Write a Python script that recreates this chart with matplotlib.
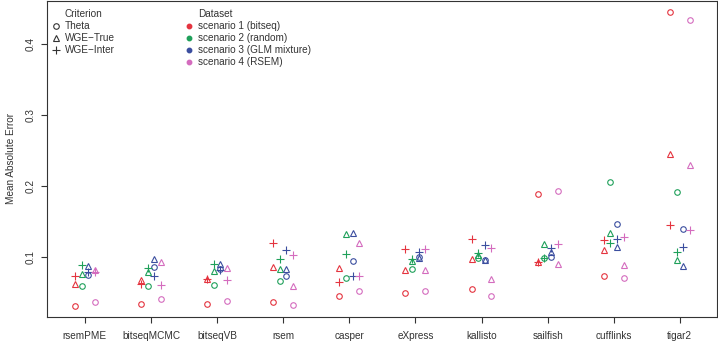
import numpy as np
import matplotlib
matplotlib.use("Agg")
import matplotlib.pyplot as plt
from matplotlib.lines import Line2D

plt.rcParams['font.family'] = ['Liberation Sans', 'DejaVu Sans']

methods = ['rsemPME', 'bitseqMCMC', 'bitseqVB', 'rsem', 'casper',
           'eXpress', 'kallisto', 'sailfish', 'cufflinks', 'tigar2']
scenarios = ['scenario 1 (bitseq)', 'scenario 2 (random)',
             'scenario 3 (GLM mixture)', 'scenario 4 (RSEM)']
criteria = ['Theta', 'WGE\u2212True', 'WGE\u2212Inter']

# rows = methods, columns = scenarios 1..4
theta = [
    [0.032, 0.059, 0.075, 0.037],
    [0.035, 0.059, 0.086, 0.041],
    [0.035, 0.061, 0.084, 0.039],
    [0.037, 0.067, 0.073, 0.033],
    [0.046, 0.071, 0.095, 0.052],
    [0.050, 0.083, 0.100, 0.052],
    [0.055, 0.099, 0.096, 0.046],
    [0.189, 0.099, 0.101, 0.193],
    [0.073, 0.206, 0.147, 0.071],
    [0.445, 0.192, 0.140, 0.434],
]
wge_true = [
    [0.063, 0.077, 0.088, 0.082],
    [0.068, 0.079, 0.098, 0.094],
    [0.069, 0.081, 0.090, 0.085],
    [0.086, 0.084, 0.084, 0.059],
    [0.085, 0.133, 0.134, 0.120],
    [0.082, 0.095, 0.099, 0.082],
    [0.097, 0.103, 0.096, 0.069],
    [0.094, 0.119, 0.108, 0.090],
    [0.110, 0.134, 0.115, 0.089],
    [0.246, 0.096, 0.088, 0.230],
]
wge_inter = [
    [0.074, 0.089, 0.079, 0.080],
    [0.063, 0.085, 0.073, 0.061],
    [0.069, 0.090, 0.082, 0.068],
    [0.120, 0.098, 0.110, 0.103],
    [0.065, 0.104, 0.073, 0.073],
    [0.112, 0.098, 0.108, 0.112],
    [0.126, 0.106, 0.118, 0.113],
    [0.094, 0.099, 0.113, 0.119],
    [0.125, 0.120, 0.126, 0.128],
    [0.146, 0.107, 0.115, 0.139],
]

colors = ['#E4343F', '#1FA05A', '#3B4E9F', '#D46CBE']
offsets = [-0.15, -0.05, 0.05, 0.15]
markers = [('o', 4.0), ('^', 5.0), ('+', 6.0)]
text_color = '#333333'

fig = plt.figure(figsize=(7.18, 3.42), dpi=100)
ax = fig.add_axes([0.0648, 0.0722, 0.9345, 0.9263])

x = np.arange(1, len(methods) + 1)
for (mk, ms), values in zip(markers, [theta, wge_true, wge_inter]):
    values = np.array(values)
    for j, col in enumerate(colors):
        ax.plot(x + offsets[j], values[:, j], linestyle='none', marker=mk,
                markersize=ms, markerfacecolor='none', markeredgecolor=col,
                markeredgewidth=0.8)

ax.set_xlim(0.42, 10.57)
ax.set_ylim(0.0156, 0.4612)
ax.set_xticks(x)
ax.set_xticklabels(methods)
ax.set_yticks([0.1, 0.2, 0.3, 0.4])
ax.set_yticklabels(['0.1', '0.2', '0.3', '0.4'], rotation=90, va='center')
ax.tick_params(axis='both', length=4.5, width=0.8, color=text_color,
               labelsize=7.2, labelcolor=text_color)
ax.tick_params(axis='x', pad=5)
ax.tick_params(axis='y', pad=3)
for sp in ax.spines.values():
    sp.set_linewidth(0.8)
    sp.set_color(text_color)

ax.set_ylabel('Mean Absolute Error', fontsize=7.2, color=text_color)
ax.yaxis.set_label_coords(-0.045, 0.5)


def add_legend(handles, labels, title, x0):
    # legend without built-in title; title drawn above the label column
    leg = ax.legend(handles, labels, loc='upper left',
                    bbox_to_anchor=(x0, 0.95), frameon=False, fontsize=7.2,
                    handlelength=0.8, handletextpad=0.5, labelspacing=0.2,
                    borderpad=0, labelcolor=text_color)
    ax.add_artist(leg)
    ax.legend_ = None
    fig.canvas.draw()
    bb = leg.get_texts()[0].get_window_extent()
    xt, _ = ax.transAxes.inverted().transform((bb.x0, bb.y1))
    ax.text(xt, 0.958, title, transform=ax.transAxes, fontsize=7.2,
            color=text_color, ha='left', va='center')
    return leg


crit_handles = [Line2D([], [], linestyle='none', marker=mk, markersize=ms,
                       markerfacecolor='none', markeredgecolor=text_color,
                       markeredgewidth=0.8)
                for mk, ms in markers]
add_legend(crit_handles, criteria, 'Criterion', 0.0)

data_handles = [Line2D([], [], linestyle='none', marker='o', markersize=3.2,
                       markerfacecolor=c, markeredgecolor=c)
                for c in colors]
add_legend(data_handles, scenarios, 'Dataset', 0.199)

fig.savefig('out.png', dpi=100)
